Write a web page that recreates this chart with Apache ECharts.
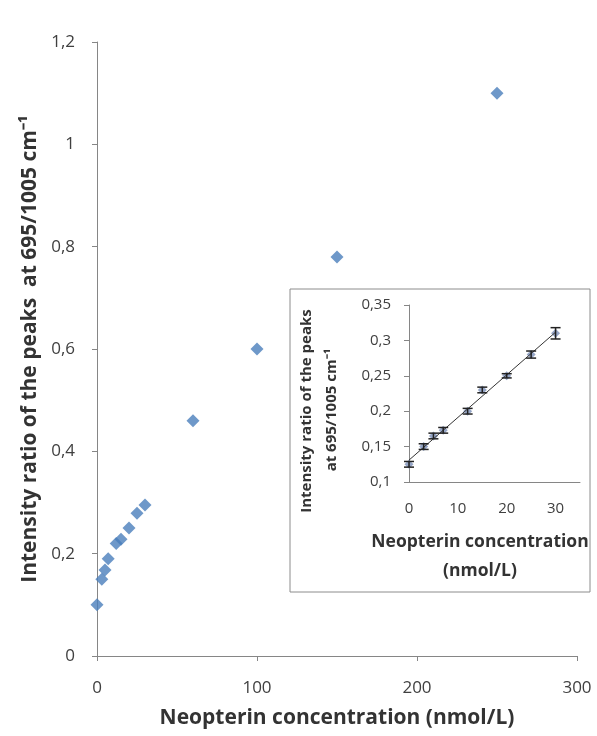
<!DOCTYPE html>
<html>
<head>
<meta charset="utf-8">
<script src="https://cdn.jsdelivr.net/npm/echarts@6/dist/echarts.min.js"></script>
<style>
  html, body { margin: 0; padding: 0; background: #fff; }
  #chart { width: 597px; height: 736px; }
</style>
</head>
<body>
<div id="chart"></div>
<script>
// main plot
const mainX = [0, 3, 5, 7, 12, 15, 20, 25, 30, 60, 100, 150, 250];
const mainY = [0.1, 0.15, 0.168, 0.19, 0.22, 0.228, 0.25, 0.279, 0.295, 0.46, 0.6, 0.78, 1.1];
const mainYTicks = [0, 0.2, 0.4, 0.6, 0.8, 1, 1.2];

// inset (calibration range)
const insetX = [0, 3, 5, 7, 12, 15, 20, 25, 30];
const insetY = [0.125, 0.15, 0.165, 0.173, 0.2, 0.23, 0.25, 0.28, 0.31];
const insetErr = [0.004, 0.004, 0.004, 0.004, 0.004, 0.004, 0.003, 0.005, 0.008];

const FONT = "Open Sans";
const comma = v => String(+v.toFixed(2)).replace(".", ",");

// least squares line for the inset
let n = insetX.length, sx = 0, sy = 0, sxx = 0, sxy = 0;
for (let i = 0; i < n; i++) {
  sx += insetX[i]; sy += insetY[i];
  sxx += insetX[i] * insetX[i]; sxy += insetX[i] * insetY[i];
}
const slope = (n * sxy - sx * sy) / (n * sxx - sx * sx);
const icpt = (sy - slope * sx) / n;
const xs0 = Math.min(...insetX), xs1 = Math.max(...insetX);
const fitLine = [[xs0, icpt + slope * xs0], [xs1, icpt + slope * xs1]];

let myChart = echarts.init(document.getElementById("chart"));

let axisLine = { show: true, lineStyle: { color: "#868686", width: 1 } };

let option = {
  animation: false,
  backgroundColor: "#fff",
  textStyle: { fontFamily: FONT },
  grid: [
    { left: 97, top: 42, width: 480, height: 614 },
    { left: 409, top: 305, width: 171, height: 177 }
  ],
  graphic: [
    {
      type: "rect", z: -10,
      shape: { x: 290, y: 289, width: 300, height: 303 },
      style: { fill: "#fff", stroke: "#8c8c8c", lineWidth: 1 }
    },
    {
      type: "text", x: 307, y: 411, rotation: Math.PI / 2,
      style: {
        text: "Intensity ratio of the peaks", fontFamily: FONT, fontWeight: "bold",
        fontSize: 15, fill: "#333", align: "center", verticalAlign: "middle"
      }
    },
    {
      type: "text", x: 332, y: 410, rotation: Math.PI / 2,
      style: {
        text: "at 695/1005 cm\u207B\u00B9", fontFamily: FONT, fontWeight: "bold",
        fontSize: 15, fill: "#333", align: "center", verticalAlign: "middle"
      }
    },
    {
      type: "text", x: 480, y: 542,
      style: {
        text: "Neopterin concentration", fontFamily: FONT, fontWeight: "bold",
        fontSize: 17.5, fill: "#333", align: "center", verticalAlign: "middle"
      }
    },
    {
      type: "text", x: 480, y: 571,
      style: {
        text: "(nmol/L)", fontFamily: FONT, fontWeight: "bold",
        fontSize: 17.5, fill: "#333", align: "center", verticalAlign: "middle"
      }
    }
  ],
  xAxis: [
    {
      gridIndex: 0, type: "value", min: 0, max: 300, interval: 100,
      splitLine: { show: false },
      axisLine: axisLine,
      axisTick: { show: true, length: 5, lineStyle: { color: "#868686" } },
      axisLabel: { fontSize: 17, color: "#404040", margin: 24, fontFamily: FONT },
      name: "Neopterin concentration (nmol/L)",
      nameLocation: "middle", nameGap: 52,
      nameTextStyle: { fontSize: 21, fontWeight: "bold", color: "#333", fontFamily: FONT }
    },
    {
      gridIndex: 1, type: "value", min: 0, max: 35, interval: 10,
      splitLine: { show: false },
      axisLine: axisLine,
      axisTick: { show: false },
      axisLabel: { fontSize: 15, color: "#404040", margin: 19, showMaxLabel: false, fontFamily: FONT }
    }
  ],
  yAxis: [
    {
      gridIndex: 0, type: "value", min: 0, max: 1.2, interval: 0.2,
      splitLine: { show: false },
      axisLine: axisLine,
      axisTick: { show: true, length: 5, lineStyle: { color: "#868686" } },
      axisLabel: {
        fontSize: 17, color: "#404040", margin: 22, fontFamily: FONT,
        formatter: v => mainYTicks.indexOf(+v.toFixed(2)) >= 0 ? comma(v) : ""
      },
      name: "Intensity ratio of the peaks  at 695/1005 cm\u207B\u00B9",
      nameLocation: "middle", nameGap: 55,
      nameTextStyle: { fontSize: 21, fontWeight: "bold", color: "#333", fontFamily: FONT }
    },
    {
      gridIndex: 1, type: "value", min: 0.1, max: 0.35, interval: 0.05,
      splitLine: { show: false },
      axisLine: axisLine,
      axisTick: { show: true, length: 5, lineStyle: { color: "#868686" } },
      axisLabel: { fontSize: 15, color: "#404040", margin: 18, fontFamily: FONT, formatter: comma }
    }
  ],
  series: [
    {
      type: "scatter", xAxisIndex: 0, yAxisIndex: 0,
      symbol: "diamond", symbolSize: 13,
      itemStyle: { color: "#4a7ebb" },
      data: mainX.map((x, i) => [x, mainY[i]])
    },
    {
      type: "line", xAxisIndex: 1, yAxisIndex: 1,
      showSymbol: false, symbol: "none",
      lineStyle: { color: "#333", width: 1 },
      data: fitLine, z: 3
    },
    {
      type: "scatter", xAxisIndex: 1, yAxisIndex: 1,
      symbol: "diamond", symbolSize: 9,
      itemStyle: { color: "#7b8fb8" },
      data: insetX.map((x, i) => [x, insetY[i]]), z: 2
    },
    {
      // error bars
      type: "custom", xAxisIndex: 1, yAxisIndex: 1, z: 4,
      data: insetX.map((x, i) => [x, insetY[i] - insetErr[i], insetY[i] + insetErr[i]]),
      renderItem: function (params, api) {
        let lo = api.coord([api.value(0), api.value(1)]);
        let hi = api.coord([api.value(0), api.value(2)]);
        let w = 5;
        let st = { stroke: "#222", lineWidth: 1.5 };
        return {
          type: "group",
          children: [
            { type: "line", shape: { x1: lo[0], y1: lo[1], x2: hi[0], y2: hi[1] }, style: st },
            { type: "line", shape: { x1: lo[0] - w, y1: lo[1], x2: lo[0] + w, y2: lo[1] }, style: st },
            { type: "line", shape: { x1: hi[0] - w, y1: hi[1], x2: hi[0] + w, y2: hi[1] }, style: st }
          ]
        };
      }
    }
  ]
};

myChart.setOption(option);
</script>
</body>
</html>
